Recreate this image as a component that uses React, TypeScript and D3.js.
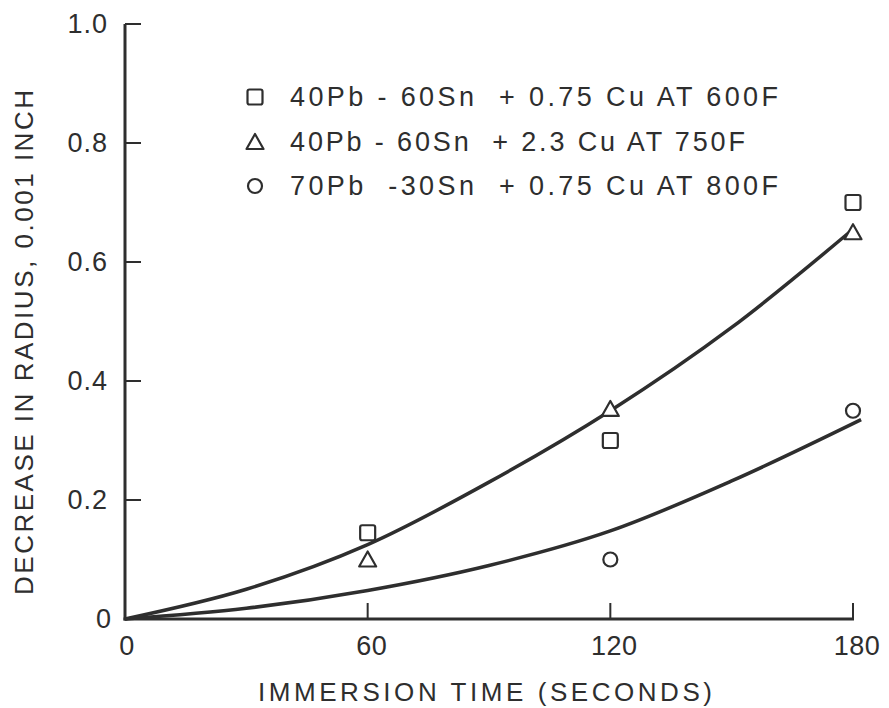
import React from "react";
import * as d3 from "d3";

const xTicks = [0, 60, 120, 180];
const yTicks = [0, 0.2, 0.4, 0.6, 0.8, 1.0];
const yTickLabels = ["0", "0.2", "0.4", "0.6", "0.8", "1.0"];

const squarePts: [number, number][] = [[60, 0.145], [120, 0.30], [180, 0.70]];
const trianglePts: [number, number][] = [[60, 0.10], [120, 0.353], [180, 0.65]];
const circlePts: [number, number][] = [[120, 0.10], [180, 0.35]];

const upperCurve: [number, number][] = [[0, 0], [30, 0.05], [60, 0.125], [90, 0.23], [120, 0.35], [150, 0.49], [180, 0.655]];
const lowerCurve: [number, number][] = [[0, 0], [30, 0.018], [60, 0.048], [90, 0.09], [120, 0.148], [150, 0.232], [182, 0.335]];

const legendLabels = [
  "40Pb - 60Sn  + 0.75 Cu AT 600F",
  "40Pb - 60Sn  + 2.3 Cu AT 750F",
  "70Pb  -30Sn  + 0.75 Cu AT 800F",
];
const legendWidths = [488, 455, 488];

const xTitle = "IMMERSION TIME (SECONDS)";
const yTitle = "DECREASE IN RADIUS, 0.001 INCH";

const INK = "#2e2e2e";
const FONT = "'Liberation Sans', Arial, sans-serif";

function Marker({ kind, x, y }: { kind: string; x: number; y: number }) {
  if (kind === "square")
    return <rect x={x - 7.5} y={y - 7.5} width={15} height={15} rx={2} fill="white" stroke={INK} strokeWidth={2.2} />;
  if (kind === "triangle") {
    const p = d3.path();
    p.moveTo(x, y - 8);
    p.lineTo(x + 8.5, y + 7);
    p.lineTo(x - 8.5, y + 7);
    p.closePath();
    return <path d={p.toString()} fill="white" stroke={INK} strokeWidth={2.2} strokeLinejoin="round" />;
  }
  return <circle cx={x} cy={y} r={7} fill="white" stroke={INK} strokeWidth={2.2} />;
}

export default function App() {
  const x = d3.scaleLinear().domain([0, 180]).range([125, 853]);
  const y = d3.scaleLinear().domain([0, 1]).range([619, 24]);
  const line = d3
    .line<[number, number]>()
    .x((d) => x(d[0]))
    .y((d) => y(d[1]))
    .curve(d3.curveMonotoneX);

  const legendKinds = ["square", "triangle", "circle"];
  const legendY = [97, 142, 186];

  return (
    <svg
      width={889}
      height={708}
      style={{ position: "absolute", left: 0, top: 0, background: "white" }}
      fontFamily={FONT}
    >
      <rect width={889} height={708} fill="white" />
      {/* curves */}
      <path d={line(upperCurve) || ""} fill="none" stroke={INK} strokeWidth={3.5} />
      <path d={line(lowerCurve) || ""} fill="none" stroke={INK} strokeWidth={3.5} />

      {/* axes */}
      <line x1={x(0)} x2={x(0)} y1={y(1)} y2={y(0) + 1.5} stroke={INK} strokeWidth={3} />
      <line x1={x(0) - 1.5} x2={x(180) + 1} y1={y(0)} y2={y(0)} stroke={INK} strokeWidth={3} />
      {yTicks.slice(1).map((t) => (
        <line key={"yt" + t} x1={x(0)} x2={x(0) + 16} y1={y(t)} y2={y(t)} stroke={INK} strokeWidth={2} />
      ))}
      {xTicks.slice(1).map((t) => (
        <line key={"xt" + t} x1={x(t)} x2={x(t)} y1={y(0)} y2={y(0) - 16} stroke={INK} strokeWidth={2} />
      ))}
      {yTicks.map((t, i) => (
        <text
          key={"yl" + t}
          x={i === 0 ? 112 : 108}
          y={y(t)}
          textAnchor="end"
          dominantBaseline="central"
          fontSize={27}
          letterSpacing={1}
          fill={INK}
        >
          {yTickLabels[i]}
        </text>
      ))}
      {xTicks.map((t) => (
        <text
          key={"xl" + t}
          x={x(t) + (t === 0 ? 2 : 4)}
          y={646}
          textAnchor="middle"
          dominantBaseline="central"
          fontSize={27}
          letterSpacing={0.5}
          fill={INK}
        >
          {t}
        </text>
      ))}

      {/* axis titles */}
      <text
        x={258}
        y={692}
        dominantBaseline="central"
        fontSize={26}
        textLength={454}
        lengthAdjust="spacing"
        fill={INK}
      >
        {xTitle}
      </text>
      <text
        transform={`translate(24,595) rotate(-90)`}
        dominantBaseline="central"
        fontSize={26}
        textLength={505}
        lengthAdjust="spacing"
        fill={INK}
      >
        {yTitle}
      </text>

      {/* data markers */}
      {squarePts.map((d, i) => (
        <Marker key={"s" + i} kind="square" x={x(d[0])} y={y(d[1])} />
      ))}
      {trianglePts.map((d, i) => (
        <Marker key={"t" + i} kind="triangle" x={x(d[0])} y={y(d[1])} />
      ))}
      {circlePts.map((d, i) => (
        <Marker key={"c" + i} kind="circle" x={x(d[0])} y={y(d[1])} />
      ))}

      {/* legend */}
      {legendLabels.map((lab, i) => (
        <g key={"lg" + i}>
          <Marker kind={legendKinds[i]} x={255} y={legendY[i]} />
          <text
            x={290}
            y={legendY[i]}
            dominantBaseline="central"
            fontSize={27}
            textLength={legendWidths[i]}
            lengthAdjust="spacing"
            fill={INK}
            style={{ whiteSpace: "pre" }}
          >
            {lab}
          </text>
        </g>
      ))}
    </svg>
  );
}
